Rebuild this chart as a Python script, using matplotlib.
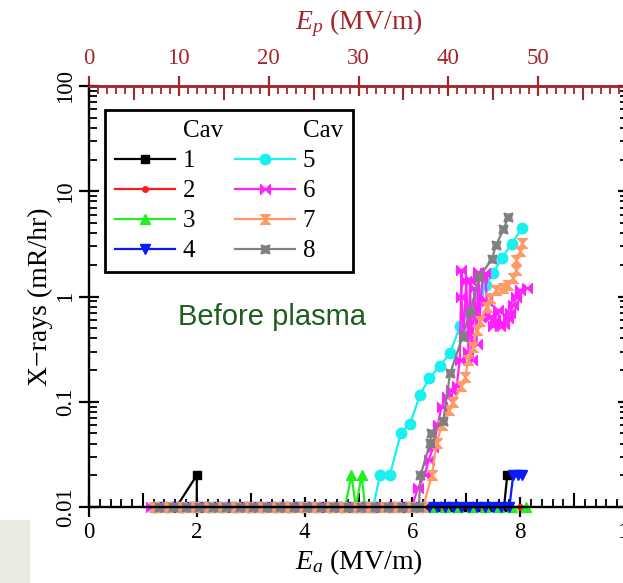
import numpy as np
import matplotlib
matplotlib.use('Agg')
import matplotlib.pyplot as plt
from matplotlib.path import Path
from matplotlib.lines import Line2D
from matplotlib.patches import Rectangle

plt.rcParams['font.family'] = 'Liberation Serif'
plt.rcParams['mathtext.fontset'] = 'custom'
plt.rcParams['mathtext.rm'] = 'Liberation Serif'
plt.rcParams['mathtext.it'] = 'Liberation Serif:italic'

# accelerating field Ea (MV/m) and x-ray level (mR/hr) per cavity
cav1_ea = [1.20, 1.45, 1.62, 2.00, 2.00, 2.25, 2.50, 2.75, 3.00, 3.25, 3.50, 3.75, 4.00, 4.25, 4.50,
           4.75, 5.00, 5.25, 5.50, 5.75, 6.00, 6.25, 6.50, 6.75, 7.00, 7.25, 7.50, 7.70, 7.76]
cav1_x = [0.01, 0.01, 0.01, 0.02, 0.01, 0.01, 0.01, 0.01, 0.01, 0.01, 0.01, 0.01, 0.01, 0.01, 0.01,
          0.01, 0.01, 0.01, 0.01, 0.01, 0.01, 0.01, 0.01, 0.01, 0.01, 0.01, 0.01, 0.01, 0.02]

cav2_ea = [1.30, 1.55, 1.80, 2.05, 2.30, 2.55, 2.80, 3.05, 3.30, 3.55, 3.80, 4.05, 4.30, 4.55,
           4.80, 5.05, 5.30, 5.55, 5.80, 6.05, 6.30, 6.55, 6.80, 7.05, 7.30, 7.55, 7.80, 8.00]
cav2_x = [0.01, 0.01, 0.01, 0.01, 0.01, 0.01, 0.01, 0.01, 0.01, 0.01, 0.01, 0.01, 0.01, 0.01,
          0.01, 0.01, 0.01, 0.01, 0.01, 0.01, 0.01, 0.01, 0.01, 0.01, 0.01, 0.01, 0.01, 0.01]

cav3_ea = [1.25, 1.50, 1.75, 2.00, 2.25, 2.50, 2.75, 3.00, 3.25, 3.50, 3.75, 4.00, 4.25, 4.50, 4.75,
           4.87, 4.95, 5.06, 5.12, 5.35, 5.60, 5.85, 6.10, 6.35, 6.60, 6.85, 7.10, 7.35, 7.60, 7.85, 8.10]
cav3_x = [0.01, 0.01, 0.01, 0.01, 0.01, 0.01, 0.01, 0.01, 0.01, 0.01, 0.01, 0.01, 0.01, 0.01, 0.01,
          0.02, 0.01, 0.02, 0.01, 0.01, 0.01, 0.01, 0.01, 0.01, 0.01, 0.01, 0.01, 0.01, 0.01, 0.01, 0.01]

cav4_ea = [1.35, 1.60, 1.85, 2.10, 2.35, 2.60, 2.85, 3.10, 3.35, 3.60, 3.85, 4.10, 4.35, 4.60, 4.85,
           5.10, 5.35, 5.60, 5.85, 6.10, 6.30, 6.45, 6.60, 6.75, 6.90, 7.05, 7.20, 7.35, 7.50, 7.65,
           7.80, 7.87, 7.95, 8.03]
cav4_x = [0.01, 0.01, 0.01, 0.01, 0.01, 0.01, 0.01, 0.01, 0.01, 0.01, 0.01, 0.01, 0.01, 0.01, 0.01,
          0.01, 0.01, 0.01, 0.01, 0.01, 0.01, 0.01, 0.01, 0.01, 0.01, 0.01, 0.01, 0.01, 0.01, 0.01,
          0.01, 0.02, 0.02, 0.02]

cav5_ea = [1.20, 1.45, 1.70, 1.95, 2.20, 2.45, 2.70, 2.95, 3.20, 3.45, 3.70, 3.95, 4.20, 4.45, 4.70,
           4.95, 5.20, 5.27, 5.40, 5.58, 5.79, 5.96, 6.14, 6.31, 6.51, 6.70, 6.88, 7.05, 7.22, 7.36,
           7.50, 7.66, 7.84, 8.03]
cav5_x = [0.01, 0.01, 0.01, 0.01, 0.01, 0.01, 0.01, 0.01, 0.01, 0.01, 0.01, 0.01, 0.01, 0.01, 0.01,
          0.01, 0.01, 0.01, 0.02, 0.02, 0.051, 0.062, 0.116, 0.167, 0.22, 0.29, 0.52, 0.75, 1.07, 1.3,
          1.68, 2.31, 3.16, 4.45]

cav6_ea = [1.15, 1.40, 1.65, 1.90, 2.15, 2.40, 2.65, 2.90, 3.15, 3.40, 3.65, 3.90, 4.15, 4.40, 4.65,
           4.90, 5.15, 5.40, 5.65, 5.90, 5.99, 6.10, 6.23, 6.30, 6.39, 6.47, 6.54, 6.64, 6.72, 6.82,
           6.88, 6.91, 6.91, 6.95, 7.00, 7.04, 7.07, 7.10, 7.15, 7.19, 7.22, 7.25, 7.30, 7.35, 7.38,
           7.44, 7.50, 7.53, 7.59, 7.63, 7.70, 7.77, 7.81, 7.87, 7.93, 8.00, 8.12]
cav6_x = [0.01, 0.01, 0.01, 0.01, 0.01, 0.01, 0.01, 0.01, 0.01, 0.01, 0.01, 0.01, 0.01, 0.01, 0.01,
          0.01, 0.01, 0.01, 0.01, 0.01, 0.01, 0.015, 0.02, 0.028, 0.037, 0.06, 0.09, 0.11, 0.13, 0.14,
          0.25, 1.8, 0.99, 0.45, 1.4, 0.3, 1.44, 0.25, 1.2, 0.35, 1.7, 0.64, 1.5, 1.67, 0.9,
          0.64, 0.52, 0.6, 0.75, 0.52, 0.55, 0.62, 0.69, 0.83, 0.98, 1.15, 1.2]

cav7_ea = [1.20, 1.45, 1.70, 1.95, 2.20, 2.45, 2.70, 2.95, 3.20, 3.45, 3.70, 3.95, 4.20, 4.45, 4.70,
           4.95, 5.20, 5.45, 5.70, 5.95, 6.20, 6.36, 6.45, 6.55, 6.67, 6.76, 6.91, 6.98, 7.04, 7.13,
           7.19, 7.25, 7.38, 7.44, 7.56, 7.69, 7.78, 7.87, 7.93, 7.93, 8.00, 8.03]
cav7_x = [0.01, 0.01, 0.01, 0.01, 0.01, 0.01, 0.01, 0.01, 0.01, 0.01, 0.01, 0.01, 0.01, 0.01, 0.01,
          0.01, 0.01, 0.01, 0.01, 0.01, 0.01, 0.02, 0.041, 0.06, 0.083, 0.1, 0.14, 0.17, 0.25, 0.33,
          0.48, 0.58, 0.8, 0.96, 1.15, 1.2, 1.28, 1.5, 1.8, 2.2, 2.7, 3.2]

cav8_ea = [1.30, 1.55, 1.80, 2.05, 2.30, 2.55, 2.80, 3.05, 3.30, 3.55, 3.80, 4.05, 4.30, 4.55, 4.80,
           5.05, 5.30, 5.55, 5.80, 6.05, 6.12, 6.15, 6.33, 6.35, 6.57, 6.70, 6.93, 7.07, 7.24, 7.47,
           7.55, 7.69, 7.78]
cav8_x = [0.01, 0.01, 0.01, 0.01, 0.01, 0.01, 0.01, 0.01, 0.01, 0.01, 0.01, 0.01, 0.01, 0.01, 0.01,
          0.01, 0.01, 0.01, 0.01, 0.01, 0.01, 0.02, 0.041, 0.05, 0.065, 0.186, 0.415, 0.72, 1.52, 2.25,
          3.06, 4.35, 5.7]

cav_labels = ['1', '2', '3', '4', '5', '6', '7', '8']
ep_per_ea = 6.0

# bow-tie style markers
bowtie = Path([(-1, -1), (-1, 1), (1, -1), (1, 1), (-1, -1)],
              [Path.MOVETO, Path.LINETO, Path.LINETO, Path.LINETO, Path.CLOSEPOLY])
hourglass = Path([(-1, 1), (1, 1), (-1, -1), (1, -1), (-1, 1)],
                 [Path.MOVETO, Path.LINETO, Path.LINETO, Path.LINETO, Path.CLOSEPOLY])

styles = [
    dict(color='black', marker='s', ms=6),
    dict(color='#ff1a1a', marker='o', ms=4),
    dict(color='#22ee22', marker='^', ms=7.5),
    dict(color='#0a1aff', marker='v', ms=7.5),
    dict(color='#19f0f0', marker='o', ms=7.5),
    dict(color='#ff22ff', marker=bowtie, ms=7),
    dict(color='#ff9a66', marker=hourglass, ms=7),
    dict(color='#808080', marker=(4, 1, 45), ms=9),
]
series = [(cav1_ea, cav1_x), (cav2_ea, cav2_x), (cav3_ea, cav3_x), (cav4_ea, cav4_x),
          (cav5_ea, cav5_x), (cav6_ea, cav6_x), (cav7_ea, cav7_x), (cav8_ea, cav8_x)]

fig = plt.figure(figsize=(6.23, 5.83), dpi=100)
fig.patches.append(Rectangle((0, 0), 0.046, 0.108, transform=fig.transFigure,
                             color='#ecebe2', zorder=0))
ax = fig.add_axes([89 / 623, 76 / 583, 539 / 623, 421 / 583])

lines = []
for (ea, xr), st, lab in zip(series, styles, cav_labels):
    ln, = ax.plot(ea, xr, color=st['color'], marker=st['marker'], ms=st['ms'],
                  mfc=st['color'], mec=st['color'], lw=1.6, clip_on=False, label=lab)
    lines.append(ln)

ax.set_yscale('log')
ax.set_xlim(0, 10)
ax.set_ylim(0.01, 100)
ax.set_yticks([0.01, 0.1, 1, 10, 100])
ax.set_yticklabels(['0.01', '0.1', '1', '10', '100'], rotation=90, va='center')
ax.set_xticks([0, 2, 4, 6, 8, 10])
ax.set_xticks(np.arange(0, 10.01, 0.2), minor=True)
ax.tick_params(axis='both', which='major', direction='inout', length=14, width=1.6,
               labelsize=16.5, top=False, right=True, pad=4)
ax.tick_params(axis='y', which='major', pad=2)
ax.tick_params(axis='both', which='minor', direction='in', length=6, width=1.3,
               top=False, right=True)
for side in ['left', 'bottom', 'right']:
    ax.spines[side].set_linewidth(1.7)

ax.set_xlabel(r'$E_a$ (MV/m)', fontsize=20, labelpad=3)
ax.set_ylabel('X\u2212rays (mR/hr)', fontsize=20, labelpad=2)

# medium ticks at odd Ea values
mid = ax.secondary_xaxis('bottom')
mid.set_xticks([1, 3, 5, 7, 9])
mid.tick_params(direction='in', length=10, width=1.5, labelbottom=False)
mid.spines['bottom'].set_visible(False)

# peak surface field axis on top
red = '#a3262b'
ax.spines['top'].set_color(red)
ax.spines['top'].set_linewidth(1.8)
top = ax.secondary_xaxis('top', functions=(lambda e: e * ep_per_ea, lambda p: p / ep_per_ea))
top.set_xticks([0, 10, 20, 30, 40, 50])
top.set_xticks(np.arange(0, 60.1, 1), minor=True)
top.tick_params(which='major', direction='inout', length=14, width=1.6, colors=red,
                labelsize=16.5, pad=5)
top.tick_params(which='minor', direction='in', length=6, width=1.3, colors=red)
top.spines['top'].set_color(red)
top.spines['top'].set_linewidth(1.8)
top.set_xlabel(r'$E_p$ (MV/m)', fontsize=20, color=red, labelpad=14)
top_mid = ax.secondary_xaxis('top', functions=(lambda e: e * ep_per_ea, lambda p: p / ep_per_ea))
top_mid.set_xticks([5, 15, 25, 35, 45, 55])
top_mid.tick_params(direction='in', length=10, width=1.5, colors=red, labeltop=False)
top_mid.spines['top'].set_visible(False)

blank = Line2D([], [], color='none')
handles = [blank] + lines[:4] + [blank] + lines[4:]
labels = ['Cav'] + cav_labels[:4] + ['Cav'] + cav_labels[4:]
leg = ax.legend(handles, labels, ncol=2, loc='upper left', bbox_to_anchor=(0.03, 0.943),
                borderaxespad=0, fontsize=18, handlelength=2.4, labelspacing=0.3,
                columnspacing=0.5, handletextpad=0.3, fancybox=False, framealpha=1,
                edgecolor='black', borderpad=0.4)
leg.get_frame().set_linewidth(2.0)

ax.text(0.165, 0.432, 'Before plasma', transform=ax.transAxes, fontsize=21,
        family='Liberation Sans', color='#1f5c1f')

fig.savefig('out.png', dpi=100)
